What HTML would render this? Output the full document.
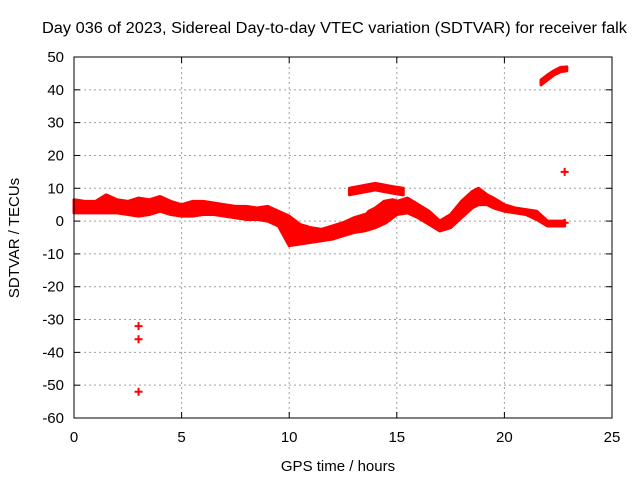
<!DOCTYPE html>
<html><head><meta charset="utf-8"><style>
body{margin:0;background:#fff}
svg{display:block;font-family:"Liberation Sans",sans-serif;font-size:14px}
</style></head><body>
<svg id="c" width="640" height="480">
<text x="42" y="33" font-size="15.5" textLength="585" lengthAdjust="spacingAndGlyphs">Day 036 of 2023, Sidereal Day-to-day VTEC variation (SDTVAR) for receiver falk</text>
<text x="338" y="471" text-anchor="middle" font-size="15">GPS time / hours</text>
<text transform="translate(19,238) rotate(-90)" text-anchor="middle" font-size="15">SDTVAR / TECUs</text>
<g id="grid"></g><g id="data"></g><g id="axes"></g>
</svg>
<script>
const xTicks=[0,5,10,15,20,25];
const yTicks=[50,40,30,20,10,0,-10,-20,-30,-40,-50,-60];
const mainHours=[0,0.5,1,1.5,2,2.5,3,3.5,4,4.5,5,5.5,6,6.5,7,7.5,8,8.5,9,9.5,10,10.5,11,11.5,12,12.5,13,13.5,14,14.5,15,15.5,16,16.5,17,17.5,18,18.5,18.8,19.2,19.5,20,20.5,21,21.5,22,22.5,22.8];
const mainLow=[2.5,2.5,2.5,2.5,2.5,2,1.5,2,3,2,1.5,1.5,2,2,1.5,1,0.5,0.5,0,-1.5,-7.5,-7,-6.5,-6,-5.5,-4.5,-3.5,-3,-2,-0.5,2,2.5,1,-1,-3,-2,1,4,5,5,4,3,2.5,2,0.5,-1.5,-1.5,-1.5];
const mainHigh=[6.5,6,6,8,6.5,6,7,6.5,7.5,6,5,6,6,5.5,5,4.5,4.5,4,4.5,3,1.5,-1,-2,-2.5,-1.5,-0.5,1,2,3,5,6,7,5,3,0,2,6,9,10,8,7,5,4,3.5,3,0,0,0];
const arcHours=[12.8,13.2,13.6,14,14.4,14.8,15.3];
const arcLow=[8,8.5,9,9.5,9,8.5,8];
const arcHigh=[10,10.5,11,11.5,11,10.5,10];
const streakHours=[13.3,13.7,14,14.4,14.8,15.1];
const streakLow=[-1.5,-0.5,1,2.5,3.5,4];
const streakHigh=[0,3,4,6,6.5,6];
const topHours=[21.7,22,22.3,22.6,22.9];
const topLow=[41.5,43,44.5,45.5,45.8];
const topHigh=[43,44.5,45.8,46.8,47];
const ptHours=[3,3,3,22.8,22.8];
const ptValues=[-32,-36,-52,15,-0.5];

const X0=74,X1=612,Y0=57,Y1=418,ymin=-60,ymax=50,xmax=25;
const xs=h=>X0+h/xmax*(X1-X0);
const ys=v=>Y0+(ymax-v)/(ymax-ymin)*(Y1-Y0);
const NS='http://www.w3.org/2000/svg';
function mk(tag,attrs,parent){const e=document.createElementNS(NS,tag);for(const k in attrs)e.setAttribute(k,attrs[k]);document.getElementById(parent).appendChild(e);return e;}
xTicks.forEach(t=>{
 if(t>0&&t<xmax){const g=mk('line',{x1:xs(t),x2:xs(t),y1:Y0,y2:Y1,stroke:'#a0a0a0','stroke-dasharray':'2,3'},'grid');
 
 }
 const tk=mk('line',{x1:xs(t),x2:xs(t),y1:Y1,y2:Y1-6,stroke:'#000'},'axes');
 
 
 const tk2=mk('line',{x1:xs(t),x2:xs(t),y1:Y0,y2:Y0+6,stroke:'#000'},'axes');
 
 
 const l=mk('text',{x:xs(t),y:Y1+24,'text-anchor':'middle','font-size':15},'axes');l.textContent=t;
 
 
});
yTicks.forEach(t=>{
 if(t<ymax&&t>ymin){const g=mk('line',{x1:X0,x2:X1,y1:ys(t),y2:ys(t),stroke:'#a0a0a0','stroke-dasharray':'2,3'},'grid');
 
 }
 const tk=mk('line',{x1:X0,x2:X0+6,y1:ys(t),y2:ys(t),stroke:'#000'},'axes');
 
 
 const tk2=mk('line',{x1:X1,x2:X1-6,y1:ys(t),y2:ys(t),stroke:'#000'},'axes');
 
 
 const l=mk('text',{x:X0-10,y:ys(t)+5,'text-anchor':'end','font-size':15},'axes');l.textContent=t;
 
 
});
const fr=mk('rect',{x:X0,y:Y0,width:X1-X0,height:Y1-Y0,fill:'none',stroke:'#000'},'axes');


function band(hs,lo,hi,name){
 let pts=hs.map((h,i)=>xs(h)+','+ys(hi[i]));
 for(let i=hs.length-1;i>=0;i--)pts.push(xs(hs[i])+','+ys(lo[i]));
 const p=mk('polygon',{points:pts.join(' '),fill:'#f00',stroke:'#f00','stroke-width':3,'stroke-linejoin':'round'},'data');
 
 
}
band(mainHours,mainLow,mainHigh,'main-band');
band(arcHours,arcLow,arcHigh,'upper-arc-band');
band(streakHours,streakLow,streakHigh,'streak-band');
band(topHours,topLow,topHigh,'top-right-band');
ptHours.forEach((h,i)=>{
 const x=xs(h),y=ys(ptValues[i]);
 const p=mk('path',{d:`M${x-4},${y}H${x+4}M${x},${y-4}V${y+4}`,stroke:'#f00','stroke-width':2},'data');
 
 
});
</script>
</body></html>
